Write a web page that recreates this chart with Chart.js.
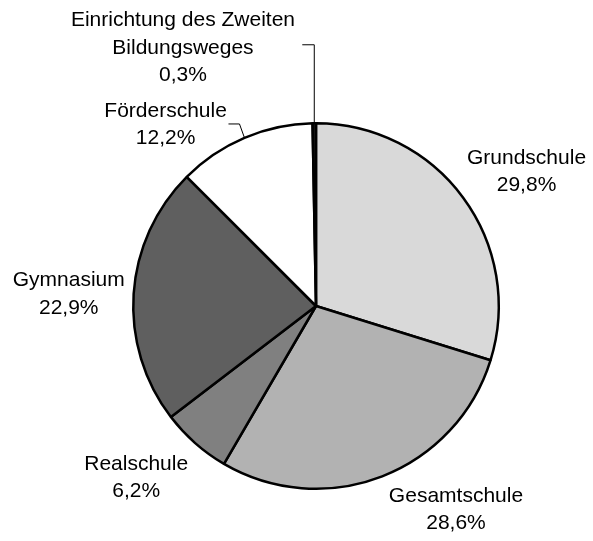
<!DOCTYPE html>
<html>
<head>
<meta charset="utf-8">
<script src="https://cdn.jsdelivr.net/npm/chart.js@4.4.0/dist/chart.umd.min.js"></script>
<style>
html,body{margin:0;padding:0;background:#fff;}
#wrap{width:593px;height:541px;position:relative;}
</style>
</head>
<body>
<div id="wrap"><canvas id="c" width="593" height="541"></canvas></div>
<script>
const categories = ["Grundschule", "Gesamtschule", "Realschule", "Gymnasium", "Förderschule", "Einrichtung des Zweiten Bildungsweges"];
const values = [29.8, 28.6, 6.2, 22.9, 12.2, 0.3];
const labelLines = [
  ["Grundschule", "29,8%"],
  ["Gesamtschule", "28,6%"],
  ["Realschule", "6,2%"],
  ["Gymnasium", "22,9%"],
  ["Förderschule", "12,2%"],
  ["Einrichtung des Zweiten", "Bildungsweges", "0,3%"]
];
const colors = ["#d9d9d9", "#b2b2b2", "#808080", "#5f5f5f", "#ffffff", "#1a1a1a"];
// label anchor offsets relative to pie center, in units of radius
const labelOffsets = [
  [1.152, -0.736],
  [0.766, 1.114],
  [-0.984, 0.94],
  [-1.353, -0.065],
  [-0.823, -0.992],
  [-0.728, -1.413]
];
const leaderSlices = [4, 5];

const labelPlugin = {
  id: 'outLabels',
  afterDraw(chart) {
    const ctx = chart.ctx;
    const meta = chart.getDatasetMeta(0);
    const lh = 27.5;
    ctx.save();
    ctx.font = '21px "Liberation Sans", Arial, sans-serif';
    ctx.fillStyle = '#000';
    ctx.textAlign = 'center';
    ctx.textBaseline = 'middle';
    meta.data.forEach((arc, i) => {
      const cx = arc.x, cy = arc.y, r = arc.outerRadius;
      const lx = cx + labelOffsets[i][0] * r;
      const ly = cy + labelOffsets[i][1] * r;
      const lines = labelLines[i];
      const top = ly - (lines.length - 1) * lh / 2;
      lines.forEach((t, k) => ctx.fillText(t, lx, top + k * lh));
      if (leaderSlices.includes(i)) {
        const mid = (arc.startAngle + arc.endAngle) / 2;
        const px = cx + Math.cos(mid) * r;
        const py = cy + Math.sin(mid) * r;
        ctx.strokeStyle = '#000';
        ctx.lineWidth = 1;
        ctx.beginPath();
        ctx.moveTo(px, py);
        if (i === 5) {
          const ey = top + lh - 3;
          ctx.lineTo(px, ey);
          ctx.lineTo(px - 12, ey);
        } else {
          const ey = top + 13;
          ctx.lineTo(px - 5, ey);
          ctx.lineTo(px - 16, ey);
        }
        ctx.stroke();
      }
    });
    ctx.restore();
  }
};

new Chart(document.getElementById('c'), {
  type: 'pie',
  data: {
    labels: categories,
    datasets: [{
      data: values,
      backgroundColor: colors,
      borderColor: '#000',
      borderWidth: 2.5
    }]
  },
  options: {
    responsive: false,
    animation: false,
    rotation: 0,
    layout: { padding: { top: 122, bottom: 51, left: 132, right: 93 } },
    plugins: {
      legend: { display: false },
      tooltip: { enabled: false }
    }
  },
  plugins: [labelPlugin]
});
</script>
</body>
</html>
